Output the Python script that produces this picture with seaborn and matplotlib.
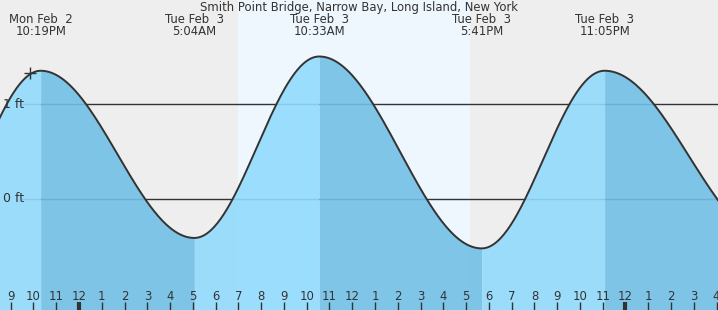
import numpy as np
import pandas as pd
import matplotlib
matplotlib.use("Agg")
import matplotlib.pyplot as plt
import matplotlib.transforms as mtransforms
import seaborn as sns

# ---------------- data ----------------
title = "Smith Point Bridge, Narrow Bay, Long Island, New York"
# tide extremes, hours relative to midnight starting Tue Feb 3
event_days = ["Mon Feb  2", "Tue Feb  3", "Tue Feb  3", "Tue Feb  3", "Tue Feb  3"]
event_times = ["10:19PM", "5:04AM", "10:33AM", "5:41PM", "11:05PM"]
event_hours = [-1.683, 5.067, 10.55, 17.683, 23.083]
event_heights = [1.35, -0.41, 1.50, -0.52, 1.35]
# extremes just outside the visible window
prev_low = (-6.8, -0.45)
next_low = (30.5, -0.45)
# daylight window (hours)
sunrise, sunset = 7.0, 17.19
# hour axis
hour_ticks = list(range(-3, 29))
hour_labels = ["9", "10", "11", "12", "1", "2", "3", "4", "5", "6", "7", "8",
               "9", "10", "11", "12", "1", "2", "3", "4", "5", "6", "7", "8",
               "9", "10", "11", "12", "1", "2", "3", "4"]
midnights = [0, 24]
level_lines = [0, 1]
level_labels = ["0 ft", "1 ft"]
marker_hour = -2.13

# ---------------- style ----------------
W, H = 718, 310
DPI = 100
px_per_hour = 22.77
x0_hour = -79.0 / px_per_hour
x1_hour = (W - 79.0) / px_per_hour
px_per_ft = 95.0
y_top = 199 / px_per_ft
y_bot = (199 - H) / px_per_ft

BG = "#eeeeee"
DAY = "#eef6fe"
LIGHT = "#92dbfd"
DARK = "#72c0e6"
TXT = "#333333"
FS = 8.4

sns.set_style("white")
plt.rcParams["font.family"] = ["DejaVu Sans"]

fig = plt.figure(figsize=(W / DPI, H / DPI), dpi=DPI)
fig.patch.set_facecolor(BG)
ax = fig.add_axes([0, 0, 1, 1])
ax.set_facecolor(BG)
ax.set_xlim(x0_hour, x1_hour)
ax.set_ylim(y_bot, y_top)
ax.axis("off")

# daylight band
ax.axvspan(sunrise, sunset, color=DAY, zorder=0, lw=0)

# tide curve from extremes (cosine interpolation between successive extremes)
ext_t = [prev_low[0]] + event_hours + [next_low[0]]
ext_h = [prev_low[1]] + event_heights + [next_low[1]]
ts, hs, seg = [], [], []
for i in range(len(ext_t) - 1):
    t = np.linspace(ext_t[i], ext_t[i + 1], 120)
    f = (t - ext_t[i]) / (ext_t[i + 1] - ext_t[i])
    h = ext_h[i] + (ext_h[i + 1] - ext_h[i]) * (1 - np.cos(np.pi * f)) / 2
    ts.append(t)
    hs.append(h)
    seg.append(np.full(t.size, "rise" if ext_h[i + 1] > ext_h[i] else "fall"))
df = pd.DataFrame({"hour": np.concatenate(ts), "ft": np.concatenate(hs),
                   "phase": np.concatenate(seg)})

# level lines (under fill)
trans_ax = mtransforms.blended_transform_factory(ax.transAxes, ax.transData)
for lv, lab in zip(level_lines, level_labels):
    ax.plot([22 / W, 1], [lv, lv], transform=trans_ax, color=TXT, lw=1.0, zorder=1)
    ax.text(3 / W, lv, lab, transform=trans_ax, ha="left", va="center",
            fontsize=FS + 0.6, color=TXT, zorder=5)

# fills
for i in range(len(ext_t) - 1):
    sub = df[(df.hour >= ext_t[i]) & (df.hour <= ext_t[i + 1])]
    col = LIGHT if ext_h[i + 1] > ext_h[i] else DARK
    ax.fill_between(sub.hour, sub.ft, y_bot, color=col, alpha=0.9, lw=0, zorder=2)

sns.lineplot(data=df, x="hour", y="ft", ax=ax, color=TXT, lw=1.4, zorder=3,
             estimator=None, sort=False, legend=False)
ax.set_xlim(x0_hour, x1_hour)
ax.set_ylim(y_bot, y_top)
ax.axis("off")

# plus marker
mk_h = np.interp(marker_hour, df.hour, df.ft)
ax.plot([marker_hour], [mk_h + 0.01], marker="+", ms=9, mew=1.0, color=TXT, zorder=4)

# title and event labels (pixel placement)
trans_dx = mtransforms.blended_transform_factory(ax.transData, ax.transAxes)
ax.text(0.5, 1 - 7.5 / H, title, transform=ax.transAxes, ha="center", va="center",
        fontsize=FS, color=TXT)
for t, d, tm in zip(event_hours, event_days, event_times):
    ax.text(t, 1 - 19.5 / H, d, transform=trans_dx, ha="center", va="center",
            fontsize=FS, color=TXT)
    ax.text(t, 1 - 31.5 / H, tm, transform=trans_dx, ha="center", va="center",
            fontsize=FS, color=TXT)

# hour ticks and labels
for t, lab in zip(hour_ticks, hour_labels):
    ax.text(t, 13.5 / H, lab, transform=trans_dx, ha="center", va="center",
            fontsize=FS, color=TXT, zorder=5)
    ax.plot([t, t], [0, 8 / H], transform=trans_dx, color=TXT,
            lw=3.0 if t in midnights else 1.0, zorder=5, solid_capstyle="butt")

fig.savefig("out.png", dpi=DPI, facecolor=BG)
